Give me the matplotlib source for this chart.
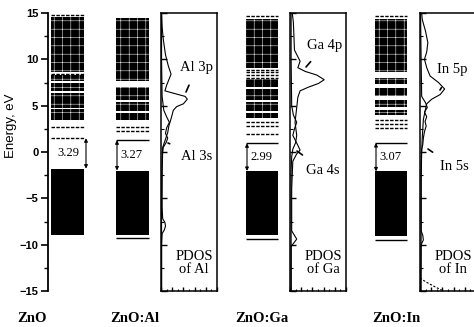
import matplotlib
matplotlib.use('Agg')
import matplotlib.pyplot as plt
from matplotlib.ticker import MultipleLocator

W, H = 474, 327
plt.rcParams['hatch.color'] = 'white'
plt.rcParams['hatch.linewidth'] = 0.35

# ---------------- data ----------------
compounds = ['ZnO', 'ZnO:Al', 'ZnO:Ga', 'ZnO:In']
gap_labels = ['3.29', '3.27', '2.99', '3.07']
gaps = [3.29, 3.27, 2.99, 3.07]
vbm = [-1.8, -2.0, -2.05, -2.1]
vb_bottom = [-9.0, -9.0, -9.0, -9.1]
vb_extra = [None, -9.3, -9.4, -9.5]
cb_dense = [
    [(3.5, 4.6), (4.8, 6.4), (6.6, 7.5), (7.7, 8.3), (8.6, 14.6)],
    [(3.4, 4.2), (4.4, 5.4), (5.6, 7.0), (7.7, 14.5)],
    [(3.7, 4.2), (4.4, 5.4), (5.6, 6.8), (7.0, 7.9), (9.1, 14.4)],
    [(4.0, 4.5), (4.9, 5.6), (6.0, 6.9), (7.3, 8.0), (8.6, 14.4)],
]
cb_levels = [
    [2.7, 8.45, 14.8],
    [2.3, 2.7],
    [1.9, 2.8, 3.2, 8.0, 8.3, 8.6, 8.9, 14.7],
    [2.6, 3.0, 3.5, 14.7],
]

al_p_E = [15, 13.5, 12.2, 10.5, 9.3, 8.4, 7.2, 6.6, 6.3, 6.0, 5.7, 5.2, 4.9, 4.5, 3.6, 2.8, 2.1, 1.2, 0.5, -1, -5, -10, -15]
al_p_x = [0.01, 0.02, 0.04, 0.08, 0.13, 0.18, 0.10, 0.07, 0.25, 0.43, 0.47, 0.40, 0.28, 0.22, 0.18, 0.14, 0.12, 0.07, 0.03, 0.02, 0.01, 0.01, 0.01]
al_s_E = [15, 10, 6, 4.5, 3.8, 3.2, 2.6, 2.0, 1.5, 1.0, 0.5, 0, -2, -6, -7.2, -7.6, -8.0, -8.4, -8.8, -10, -15]
al_s_x = [0.01, 0.01, 0.02, 0.05, 0.10, 0.15, 0.10, 0.08, 0.12, 0.09, 0.04, 0.03, 0.02, 0.02, 0.03, 0.07, 0.08, 0.06, 0.02, 0.01, 0.01]

ga_p_E = [15, 14.0, 12.5, 11.0, 9.8, 9.1, 8.7, 8.3, 7.8, 7.4, 7.0, 6.6, 5.9, 4.8, 3.2, 1.8, 1.0, 0.3, -0.5, -2, -6, -10, -15]
ga_p_x = [0.04, 0.06, 0.07, 0.08, 0.18, 0.14, 0.27, 0.48, 0.61, 0.51, 0.33, 0.18, 0.14, 0.12, 0.09, 0.12, 0.10, 0.05, 0.03, 0.02, 0.02, 0.02, 0.02]
ga_s_E = [15, 10, 5, 4, 3.2, 2.5, 1.8, 1.2, 0.6, 0.2, -0.2, -1, -4, -8.5, -9, -9.4, -9.8, -10.2, -15]
ga_s_x = [0.02, 0.02, 0.03, 0.06, 0.12, 0.08, 0.05, 0.10, 0.15, 0.18, 0.12, 0.05, 0.03, 0.03, 0.08, 0.12, 0.07, 0.02, 0.02]

in_p_E = [15, 14.3, 13, 11.8, 10.8, 10.0, 9.1, 8.2, 7.5, 6.8, 6.2, 5.7, 5.2, 4.4, 3.5, 2.5, 1.5, 0, -3, -8, -15]
in_p_x = [0.03, 0.04, 0.10, 0.14, 0.12, 0.08, 0.12, 0.18, 0.33, 0.44, 0.36, 0.21, 0.12, 0.09, 0.06, 0.05, 0.04, 0.03, 0.02, 0.02, 0.02]
in_s_E = [15, 10, 6, 5.3, 4.8, 4.3, 3.8, 3.3, 2.8, 2.2, 1.5, 0.8, 0.3, -1, -5, -8.5, -9, -9.5, -10, -15]
in_s_x = [0.01, 0.02, 0.03, 0.10, 0.13, 0.08, 0.12, 0.09, 0.11, 0.08, 0.06, 0.05, 0.03, 0.02, 0.02, 0.02, 0.05, 0.06, 0.02, 0.01]
in_d_E = [-13.6, -14.0, -14.4, -14.8, -15.0]
in_d_x = [0.0, 0.1, 0.22, 0.35, 0.42]

# ---------------- layout ----------------
def fx(px):
    return px / W

def fy(py):
    return 1 - py / H

serif = 'Liberation Serif'
sans = 'Liberation Sans'

fig = plt.figure(figsize=(W / 100, H / 100), dpi=100)
ax = fig.add_axes([fx(48), fy(291), fx(426), 278 / H])
ax.set_xlim(0, 426)
ax.set_ylim(-15, 15)
for s in ['top', 'right', 'bottom']:
    ax.spines[s].set_visible(False)
ax.spines['left'].set_linewidth(1.3)
ax.set_xticks([])
ax.yaxis.set_major_locator(MultipleLocator(5))
ax.yaxis.set_minor_locator(MultipleLocator(2.5))
ax.tick_params(axis='y', which='major', direction='out', length=5, width=1.2, pad=2,
               labelsize=8)
ax.tick_params(axis='y', which='minor', direction='out', length=3, width=1.0)
for lab in ax.get_yticklabels():
    lab.set_fontfamily(sans)
    lab.set_fontweight('bold')

cols = [(3, 36), (68, 101), (198, 230), (327, 359)]
arrow_side = ['right', 'left', 'left', 'left']

for i, (x0, x1) in enumerate(cols):
    ax.fill_between([x0, x1], vb_bottom[i], vbm[i], color='black', lw=0)
    if vb_extra[i] is not None:
        ax.hlines(vb_extra[i], x0, x1, colors='black', lw=1.0)
    for lo, hi in cb_dense[i]:
        ax.fill_between([x0, x1], lo, hi, facecolor='black', edgecolor='white',
                        hatch='++', lw=0)
    ax.hlines(cb_levels[i], x0, x1, colors='black', lw=1.0, linestyles=(0, (2.5, 1)))
    cbm = vbm[i] + gaps[i]
    ax.hlines(cbm, x0, x1, colors='black', lw=1.0,
              linestyles=(0, (2.5, 1)) if i == 0 else 'solid')
    xa = x1 + 2 if arrow_side[i] == 'right' else x0 + 1
    ax.annotate('', xy=(xa, vbm[i]), xytext=(xa, cbm),
                arrowprops=dict(arrowstyle='<|-|>', lw=0.8, color='black',
                                mutation_scale=5, shrinkA=0, shrinkB=0))
    tx = x1 - 16 if arrow_side[i] == 'right' else x0 + 15
    ax.text(tx, (vbm[i] + cbm) / 2, gap_labels[i], ha='center', va='center',
            fontsize=9, family=serif)

fig.text(fx(11), fy(126), 'Energy, eV', rotation=90, ha='center', va='center',
         fontsize=9.5, family=sans)

label_x = [32, 135, 262, 396]
for name, px in zip(compounds, label_x):
    fig.text(fx(px), fy(318), name, ha='center', va='center', fontsize=10.5,
             family=serif, fontweight='bold')

# ---------------- PDOS panels ----------------
panels = [
    (161, al_p_x, al_p_E, al_s_x, al_s_E, 'Al 3p', 'Al 3s', 'PDOS\nof Al'),
    (290, ga_p_x, ga_p_E, ga_s_x, ga_s_E, 'Ga 4p', 'Ga 4s', 'PDOS\nof Ga'),
    (420, in_p_x, in_p_E, in_s_x, in_s_E, 'In 5p', 'In 5s', 'PDOS\nof In'),
]
p_lab = [((197, 67), (186, 92), (197, 156), (168, 143)),
         ((325, 45), (306, 67), (323, 170), (297, 151)),
         ((452, 70), (440, 90), (454, 167), (428, 149))]

def to_panel(left, px, py):
    return ((px - left) / 56, (152 - py) / (278 / 30))

for k, (left, px_, pE, sx, sE, lp, ls, lpd) in enumerate(panels):
    pa = fig.add_axes([fx(left), fy(291), fx(56), 278 / H])
    pa.set_xlim(0, 1)
    pa.set_ylim(-15, 15)
    for s in pa.spines.values():
        s.set_linewidth(1.1)
    pa.yaxis.set_major_locator(MultipleLocator(5))
    pa.yaxis.set_minor_locator(MultipleLocator(2.5))
    pa.xaxis.set_major_locator(MultipleLocator(0.2))
    pa.xaxis.set_minor_locator(MultipleLocator(0.1))
    pa.tick_params(which='both', direction='in', labelleft=False, labelbottom=False,
                   top=False, right=False)
    pa.tick_params(axis='y', which='major', length=4, width=1)
    pa.tick_params(axis='y', which='minor', length=2, width=0.8)
    pa.tick_params(axis='x', which='major', length=3, width=1)
    pa.tick_params(axis='x', which='minor', length=1.5, width=0.8)
    pa.plot(px_, pE, color='black', lw=0.8)
    pa.plot(sx, sE, color='black', lw=0.8)
    if k == 2:
        pa.plot(in_d_x, in_d_E, color='black', lw=0.8, ls=(0, (2, 1.5)))
    (tp, ap, ts, as_) = p_lab[k]
    pa.annotate(lp, xy=to_panel(left, *ap), xytext=to_panel(left, *tp),
                ha='center', va='center', fontsize=10.5, family=serif,
                arrowprops=dict(arrowstyle='-', lw=1.2, color='black',
                                shrinkA=7, shrinkB=0))
    pa.annotate(ls, xy=to_panel(left, *as_), xytext=to_panel(left, *ts),
                ha='center', va='center', fontsize=10.5, family=serif,
                arrowprops=dict(arrowstyle='-', lw=1.2, color='black',
                                shrinkA=7, shrinkB=0))
    pa.text(*to_panel(left, left + 33, 263), lpd, ha='center', va='center',
            fontsize=10.5, family=serif, linespacing=1.05)

fig.savefig('out.png', dpi=100)
